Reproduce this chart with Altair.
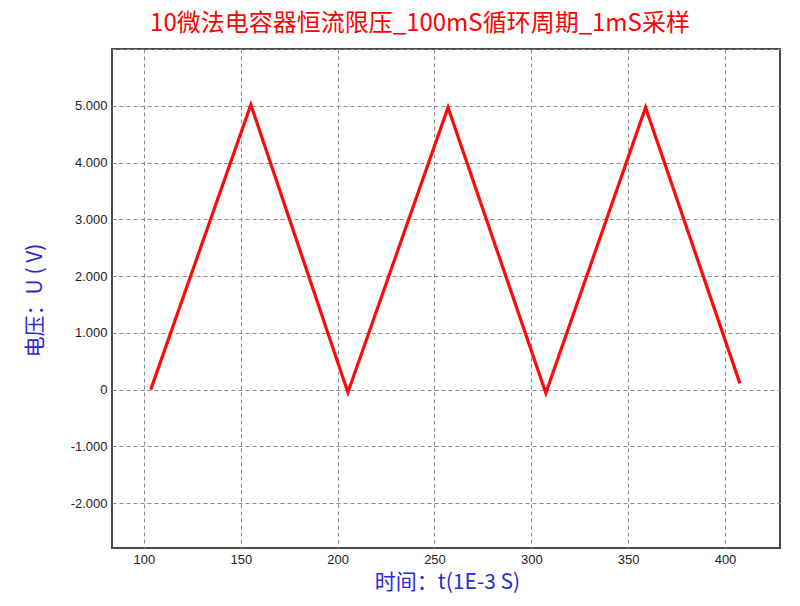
import altair as alt
import pandas as pd

# Sample times (1E-3 S) and voltages (V)
t_ms = [103.5, 155.2, 205.3, 257.0, 307.5, 359.0, 407.7]
volts = [0.00, 5.02, -0.05, 4.97, -0.06, 4.97, 0.11]

x_ticks = [100, 150, 200, 250, 300, 350, 400]
y_ticks = [-2, -1, 0, 1, 2, 3, 4, 5, 6]

title_text = "10微法电容器恒流限压_100mS循环周期_1mS采样"
x_title = "时间：t(1E-3 S)"
y_title = "电压：U ( V)"

df = pd.DataFrame({"t": t_ms, "u": volts})

blue = "#2a2ad8"

chart = alt.Chart(df).mark_line(color="#ff0a0a", strokeWidth=3.2, strokeJoin="miter").encode(
    x=alt.X(
        "t:Q",
        scale=alt.Scale(domain=[83.5, 428.4], nice=False, zero=False),
        axis=alt.Axis(
            values=x_ticks,
            title=x_title,
            titleColor=blue,
            titleFont="Noto Sans CJK SC",
            titleFontSize=21,
            titleFontWeight="normal",
            titleX=335,
            titleY=34,
            titleBaseline="middle",
            titleAlign="center",
            labelFont="Liberation Sans",
            labelFontSize=13,
            labelColor="#222222",
            labelPadding=5,
            ticks=False,
            domain=False,
            grid=True,
            gridDash=[4, 3],
            gridColor="#8a8a8a",
            gridWidth=1,
        ),
    ),
    y=alt.Y(
        "u:Q",
        scale=alt.Scale(domain=[-2.79, 6.0], nice=False, zero=False),
        axis=alt.Axis(
            values=y_ticks,
            labelExpr="datum.value == 0 ? '0' : (datum.value >= 6 ? '' : (datum.value < 0 ? '-' + format(-datum.value, '.3f') : format(datum.value, '.3f')))",
            title=y_title,
            titleColor=blue,
            titleFont="Noto Sans CJK SC",
            titleFontSize=21,
            titleFontWeight="normal",
            titleAngle=270,
            titleX=-77,
            titleY=251,
            titleBaseline="middle",
            titleAlign="center",
            labelFont="Liberation Sans",
            labelFontSize=13,
            labelColor="#222222",
            labelPadding=5,
            ticks=False,
            domain=False,
            grid=True,
            gridDash=[4, 3],
            gridColor="#8a8a8a",
            gridWidth=1,
        ),
    ),
).properties(
    width=668,
    height=499,
    background="white",
    title=alt.TitleParams(
        text=title_text,
        color="#ff0000",
        font="Noto Sans CJK SC",
        fontSize=24,
        fontWeight="normal",
        anchor="middle",
        dx=-26,
        offset=13,
    ),
    padding={"left": 104, "top": 41, "right": 12, "bottom": 48},
    autosize=alt.AutoSizeParams(type="none"),
).configure_view(
    stroke="#4a4a4a",
    strokeWidth=2,
    fill="white",
)

chart.save("out.html", embed_options={"renderer": "svg", "actions": False})
